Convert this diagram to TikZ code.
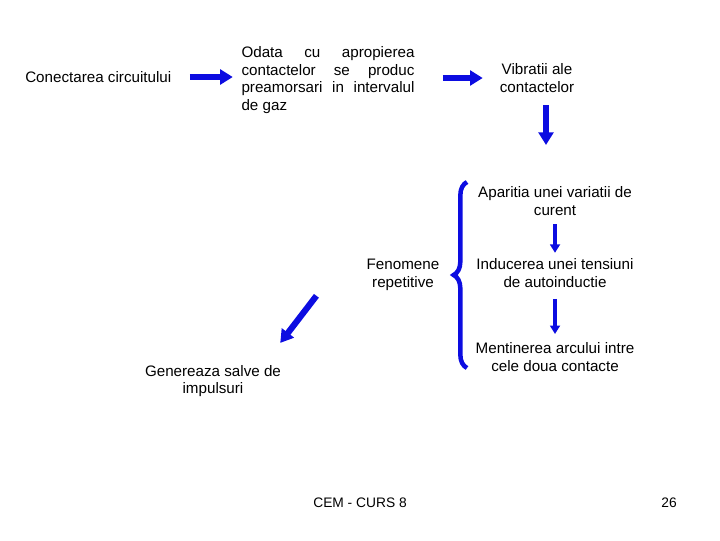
\documentclass[tikz,border=0pt]{standalone}
\usepackage{fontspec}
\setmainfont{Liberation Sans}
\usetikzlibrary{arrows.meta,decorations.pathreplacing}
\definecolor{arrowblue}{RGB}{12,12,225}

\begin{document}
\begin{tikzpicture}[
    x=0.025cm, y=-0.025cm,
    font=\fontsize{10.8}{12.4}\selectfont,
    txt/.style={inner sep=0pt, align=center},
    bigarrow/.style={-{Triangle[width=10.5pt,length=9pt]}, line width=4.4pt, arrowblue},
    thinarrow/.style={-{Triangle[width=7pt,length=6pt]}, line width=2.6pt, arrowblue},
    foot/.style={inner sep=0pt, font=\fontsize{9.8}{11}\selectfont}
]
\useasboundingbox (0,0) rectangle (720,540);
% ----- top row -----
\node[txt, anchor=west] (conect) at (25,77) {Conectarea circuitului};
\node[inner sep=0pt, text width=123pt, align=justify] (preamors) at (328,80)
    {Odata cu apropierea contactelor se produc preamorsari in intervalul de~gaz};
\node[txt] (vibr) at (537,78) {Vibratii ale\\contactelor};
\draw[bigarrow, shorten <=13pt, shorten >=6pt] (conect.east) -- (conect.east -| preamors.west);
\draw[bigarrow, shorten <=20pt, shorten >=12pt] (preamors.east |- vibr.west) -- (vibr.west);
\coordinate (vibend) at (546,145);
\draw[bigarrow, shorten <=9pt] (vibr.south -| vibend) -- (vibend);
% ----- repetitive chain -----
\node[txt] (apar) at (555,201) {Aparitia unei variatii de\\curent};
\node[txt] (induc) at (555,273) {Inducerea unei tensiuni\\de autoinductie};
\node[txt] (ment) at (555,357) {Mentinerea arcului intre\\cele doua contacte};
\draw[thinarrow, shorten <=6pt, shorten >=4pt] (apar.south) -- (induc.north);
\draw[thinarrow, shorten <=8pt, shorten >=6pt] (induc.south) -- (ment.north);
\coordinate (bracebot) at (467,368);
\coordinate (bracetop) at (467,182);
\draw[arrowblue, line width=3.2pt, decorate, decoration={brace, amplitude=9.5pt}] (bracebot) -- (bracetop);
\node[txt] (fen) at (403,275) {Fenomene\\repetitive};
% ----- result -----
\node[txt] (gen) at (213,381) {Genereaza salve de\\impulsuri};
\draw[bigarrow] ([shift={(-50,5)}]fen.south west) -- ([shift={(-1,-22)}]gen.north east);
% ----- footer -----
\node[foot] (footer) at (360,503) {CEM - CURS 8};
\node[foot] (pagenum) at (669,503) {26};
\end{tikzpicture}
\end{document}
